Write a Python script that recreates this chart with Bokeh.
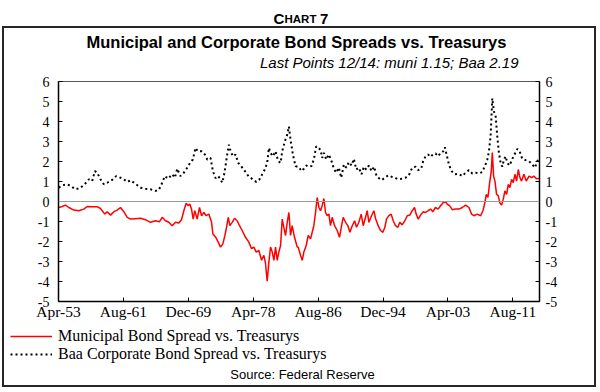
from bokeh.plotting import figure
from bokeh.layouts import column
from bokeh.models import (Range1d, LinearAxis, FixedTicker, Span, Label,
                          Legend, LegendItem)
from bokeh.embed import file_html
from bokeh.resources import INLINE

# ---------------- data ----------------
tick_labels = ["Apr-53", "Aug-61", "Dec-69", "Apr-78", "Aug-86", "Dec-94", "Apr-03", "Aug-11"]
y_ticks = [-5, -4, -3, -2, -1, 0, 1, 2, 3, 4, 5, 6]

muni_year = [1953.29, 1953.72, 1954.15, 1954.58, 1955.22, 1955.86, 1956.50, 1956.93, 1957.57, 1958.22,
             1958.64, 1959.20, 1959.50, 1959.93, 1960.36, 1960.78, 1961.21, 1961.64, 1962.07, 1962.50,
             1963.14, 1963.78, 1964.42, 1965.06, 1965.70, 1966.22, 1966.56, 1966.99, 1967.42, 1967.85,
             1968.27, 1968.70, 1969.04, 1969.34, 1969.64, 1969.90, 1970.11, 1970.33, 1970.54, 1970.75,
             1971.05, 1971.35, 1971.61, 1971.91, 1972.21, 1972.55, 1972.90, 1973.07, 1973.41, 1973.75,
             1974.05, 1974.35, 1974.61, 1974.82, 1975.04, 1975.25, 1975.55, 1975.85, 1976.19, 1976.49,
             1976.83, 1977.26, 1977.69, 1978.03, 1978.33, 1978.63, 1978.97, 1979.32, 1979.62, 1979.83,
             1980.04, 1980.26, 1980.47, 1980.69, 1980.90, 1981.11, 1981.33, 1981.54, 1981.76, 1981.97,
             1982.18, 1982.40, 1982.61, 1982.83, 1983.04, 1983.25, 1983.55, 1983.90, 1984.02, 1984.32,
             1984.54, 1984.75, 1985.05, 1985.31, 1985.61, 1985.82, 1986.03, 1986.25, 1986.46, 1986.68,
             1986.89, 1987.10, 1987.32, 1987.53, 1987.75, 1987.96, 1988.17, 1988.39, 1988.69, 1989.03,
             1989.33, 1989.59, 1989.80, 1990.10, 1990.40, 1990.66, 1990.96, 1991.26, 1991.51, 1991.81,
             1992.11, 1992.37, 1992.67, 1992.88, 1993.10, 1993.44, 1993.74, 1993.95, 1994.29, 1994.59,
             1994.89, 1995.15, 1995.36, 1995.66, 1995.96, 1996.22, 1996.52, 1996.82, 1997.07, 1997.37,
             1997.72, 1998.02, 1998.36, 1998.66, 1998.96, 1999.17, 1999.43, 1999.73, 2000.07, 2000.37,
             2000.71, 2001.01, 2001.31, 2001.65, 2001.99, 2002.30, 2002.64, 2002.94, 2003.15, 2003.45,
             2003.80, 2004.22, 2004.66, 2005.09, 2005.51, 2005.94, 2006.28, 2006.58, 2007.01, 2007.44,
             2007.74, 2007.99, 2008.17, 2008.38, 2008.60, 2008.81, 2008.94, 2009.11, 2009.28, 2009.49,
             2009.71, 2009.92, 2010.14, 2010.35, 2010.56, 2010.78, 2010.99, 2011.20, 2011.42, 2011.63,
             2011.85, 2012.06, 2012.28, 2012.49, 2012.70, 2013.00, 2013.30, 2013.65, 2013.99, 2014.29,
             2014.59, 2014.93]
muni_val = [-0.30, -0.25, -0.18, -0.30, -0.43, -0.46, -0.38, -0.25, -0.26, -0.26,
            -0.35, -0.63, -0.51, -0.68, -0.51, -0.43, -0.30, -0.51, -0.79, -0.88,
            -0.86, -0.84, -0.91, -1.04, -0.96, -1.01, -0.79, -0.96, -1.04, -1.21,
            -1.04, -1.07, -0.91, -0.46, -0.08, -0.21, -0.13, -0.38, -0.88, -0.46,
            -0.88, -0.30, -0.71, -0.55, -0.71, -0.63, -1.04, -1.62, -1.77, -2.03,
            -2.28, -2.12, -1.70, -1.29, -0.79, -1.21, -1.04, -0.84, -0.96, -1.21,
            -1.45, -1.79, -2.03, -2.36, -2.28, -2.53, -2.45, -2.94, -2.69, -3.11,
            -3.98, -3.02, -2.28, -2.53, -2.94, -2.28, -2.94, -2.53, -2.20, -0.88,
            -1.29, -1.70, -1.04, -0.55, -1.70, -1.21, -1.79, -2.28, -2.28, -2.69,
            -2.94, -2.53, -2.20, -1.70, -1.87, -1.54, -1.21, -0.55, 0.20, -0.30,
            -0.46, -0.21, 0.15, -0.55, -0.71, -0.63, -1.21, -0.79, -1.21, -1.45,
            -1.79, -1.21, -0.79, -1.04, -1.21, -1.54, -1.21, -0.96, -1.29, -1.04,
            -0.63, -1.21, -0.79, -0.46, -1.04, -0.71, -0.46, -0.85, -1.21, -1.45,
            -1.54, -1.29, -0.88, -0.71, -0.63, -0.96, -1.21, -1.29, -1.04, -1.17,
            -0.96, -0.71, -0.68, -0.46, -0.30, -0.63, -0.88, -0.68, -0.51, -0.55,
            -0.46, -0.38, -0.51, -0.30, -0.38, -0.21, -0.05, -0.02, -0.13, -0.21,
            -0.41, -0.38, -0.38, -0.30, -0.18, -0.30, -0.63, -0.71, -0.63, -0.71,
            -0.46, -0.05, 0.36, 0.20, 0.94, 1.52, 2.45, 1.27, 1.02, 0.36,
            0.28, -0.08, -0.18, 0.12, 0.53, 0.36, 0.86, 0.69, 1.11, 0.94,
            1.36, 1.02, 1.60, 1.19, 1.02, 1.36, 1.02, 1.27, 1.19, 1.27,
            1.14, 1.15]

baa_year = [1953.29, 1953.72, 1954.36, 1954.79, 1955.43, 1956.07, 1956.72, 1957.15, 1957.57, 1957.92,
            1958.22, 1958.64, 1959.07, 1959.71, 1960.23, 1960.65, 1961.21, 1961.64, 1962.07, 1962.50,
            1963.14, 1963.78, 1964.42, 1965.06, 1965.70, 1966.13, 1966.48, 1966.90, 1967.33, 1967.85,
            1968.19, 1968.49, 1968.90, 1969.34, 1969.77, 1970.20, 1970.50, 1970.84, 1971.14, 1971.61,
            1972.04, 1972.34, 1972.77, 1973.07, 1973.41, 1973.75, 1974.05, 1974.26, 1974.48, 1974.69,
            1974.91, 1975.12, 1975.34, 1975.64, 1975.98, 1976.32, 1976.75, 1977.18, 1977.69, 1978.20,
            1978.63, 1979.06, 1979.40, 1979.74, 1980.04, 1980.26, 1980.47, 1980.77, 1981.11, 1981.45,
            1981.76, 1981.97, 1982.31, 1982.61, 1982.83, 1983.04, 1983.34, 1983.68, 1984.11, 1984.45,
            1984.75, 1985.05, 1985.39, 1985.73, 1986.03, 1986.33, 1986.59, 1986.89, 1987.10, 1987.32,
            1987.62, 1987.96, 1988.30, 1988.60, 1988.90, 1989.24, 1989.54, 1989.89, 1990.19, 1990.53,
            1990.87, 1991.17, 1991.47, 1991.81, 1992.15, 1992.45, 1992.75, 1993.10, 1993.44, 1993.78,
            1994.08, 1994.47, 1994.72, 1995.15, 1995.58, 1996.00, 1996.43, 1996.86, 1997.29, 1997.80,
            1998.23, 1998.66, 1999.09, 1999.43, 1999.81, 2000.07, 2000.37, 2000.71, 2001.01, 2001.31,
            2001.65, 2001.99, 2002.30, 2002.64, 2002.85, 2003.07, 2003.37, 2003.71, 2004.14, 2004.65,
            2005.09, 2005.51, 2005.94, 2006.37, 2006.80, 2007.23, 2007.65, 2007.99, 2008.30, 2008.51,
            2008.72, 2008.94, 2009.15, 2009.37, 2009.58, 2009.79, 2010.01, 2010.22, 2010.44, 2010.65,
            2010.86, 2011.16, 2011.51, 2011.85, 2012.15, 2012.45, 2012.79, 2013.22, 2013.65, 2014.07,
            2014.42, 2014.72, 2014.93]
baa_val = [0.69, 0.81, 0.86, 0.78, 0.61, 0.68, 0.91, 1.11, 1.02, 1.52,
           1.44, 1.11, 0.86, 0.98, 1.11, 1.27, 1.19, 1.11, 0.98, 1.06,
           0.88, 0.69, 0.64, 0.61, 0.53, 0.58, 0.86, 1.27, 1.14, 1.36,
           1.19, 1.64, 1.27, 1.44, 1.69, 1.97, 2.10, 2.68, 2.51, 2.51,
           2.35, 2.10, 2.18, 1.52, 1.17, 1.27, 1.11, 0.94, 1.27, 1.77,
           2.35, 2.84, 2.51, 2.26, 2.35, 1.93, 1.74, 1.52, 1.24, 1.11,
           0.98, 1.11, 1.36, 1.60, 1.93, 2.68, 2.43, 2.26, 2.51, 2.02,
           1.93, 2.51, 3.01, 3.34, 3.75, 3.09, 2.35, 1.77, 1.72, 1.52,
           1.64, 1.80, 1.74, 1.77, 2.10, 2.76, 2.68, 2.59, 2.18, 2.43,
           2.10, 2.35, 2.02, 1.64, 1.44, 1.69, 1.19, 1.85, 1.69, 1.97,
           1.80, 2.13, 1.60, 1.69, 1.36, 1.74, 1.60, 1.80, 1.52, 1.74,
           1.27, 1.14, 1.07, 1.19, 1.31, 1.24, 1.19, 1.11, 1.14, 1.19,
           1.31, 1.69, 1.74, 1.57, 1.64, 2.02, 2.26, 2.35, 2.23, 2.35,
           2.40, 2.26, 2.43, 2.51, 2.71, 2.35, 1.85, 1.52, 1.36, 1.38,
           1.27, 1.44, 1.57, 1.40, 1.44, 1.40, 1.47, 1.77, 2.10, 2.51,
           3.26, 5.16, 4.50, 4.25, 3.26, 2.43, 1.93, 1.74, 2.10, 2.26,
           1.93, 1.80, 2.13, 2.40, 2.63, 2.51, 2.13, 2.07, 2.02, 1.85,
           1.69, 2.02, 2.19]

# ---------------- helpers ----------------
MONTHS = ["Jan", "Feb", "Mar", "Apr", "May", "Jun", "Jul", "Aug", "Sep", "Oct", "Nov", "Dec"]
START = 1953.25  # Apr-1953


def label_month(lbl):
    m, y = lbl.split("-")
    yy = int(y)
    yy += 1900 if yy >= 50 else 2000
    return int(round((yy + MONTHS.index(m) / 12.0 - START) * 12))


def to_month(years):
    return [(y - START) * 12.0 for y in years]


tick_pos = [label_month(t) for t in tick_labels]

W = 600
H_HEAD, H_MAIN, H_FOOT = 71, 251, 70      # 71 + 251 + 70 = 392
SERIF = "Liberation Serif"
SANS = "Liberation Sans"
BOX = "#262626"
MUNI_STYLE = dict(line_color="#ff0000", line_width=1.5)
BAA_STYLE = dict(line_color="black", line_width=2, line_dash="2 3")


def no_align(fig):
    try:
        fig.frame_align = False
    except Exception:
        pass


def blank_panel(h):
    f = figure(width=W, height=h, output_backend="svg", toolbar_location=None,
               x_range=Range1d(0, W), y_range=Range1d(0, h),
               x_axis_location=None, y_axis_location=None,
               min_border_left=0, min_border_right=0, min_border_top=0, min_border_bottom=0)
    f.grid.visible = False
    f.outline_line_color = None
    f.background_fill_color = None
    f.border_fill_color = None
    no_align(f)
    return f


# ---------------- header: chart number, title, subtitle ----------------
hd = blank_panel(H_HEAD)


def htext(text, x, page_y, size, style="normal", align="left", baseline="middle"):
    hd.add_layout(Label(x=x, y=H_HEAD - page_y, text=text, text_font=SANS, text_font_size=size,
                        text_font_style=style, text_align=align, text_baseline=baseline,
                        text_color="black"))


htext("C", 273, 18, "15px", style="bold", baseline="alphabetic")
htext("HART", 284, 18, "11.5px", style="bold", baseline="alphabetic")
htext("7", 319.5, 18, "15px", style="bold", baseline="alphabetic")
htext("Municipal and Corporate Bond Spreads vs. Treasurys", 296, 41, "16.5px", style="bold",
      align="center")
htext("Last Points 12/14: muni 1.15; Baa 2.19", 518, 62, "15px", style="italic", align="right")

# ---------------- main chart ----------------
p = figure(width=W, height=H_MAIN, output_backend="svg", toolbar_location=None,
           x_range=Range1d(0, 741), y_range=Range1d(-5, 6),
           min_border_left=58, min_border_right=61, min_border_top=10, min_border_bottom=19)
no_align(p)
p.grid.visible = False
p.outline_line_color = "#555555"
p.outline_line_width = 1
p.background_fill_color = "white"
p.border_fill_color = None

xa = p.xaxis[0]
xa.ticker = FixedTicker(ticks=tick_pos)
xa.major_label_overrides = {tp: tl for tp, tl in zip(tick_pos, tick_labels)}
xa.major_tick_in = 4
xa.major_tick_out = 0
xa.minor_tick_line_color = None
xa.axis_line_color = "black"
xa.axis_line_width = 1.5
xa.major_label_text_font = SERIF
xa.major_label_text_font_size = "15.5px"
xa.major_label_text_color = "black"
xa.major_label_standoff = 1

ya = p.yaxis[0]
ya.ticker = FixedTicker(ticks=y_ticks)
ya.major_label_overrides = {t: str(t) for t in y_ticks}
ya.major_tick_in = 4
ya.major_tick_out = 0
ya.minor_tick_line_color = None
ya.axis_line_color = "black"
ya.axis_line_width = 1.5
ya.major_label_text_font = SERIF
ya.major_label_text_font_size = "14px"
ya.major_label_text_color = "black"
ya.major_label_standoff = 9

ra = LinearAxis(ticker=FixedTicker(ticks=y_ticks),
                major_label_overrides={t: str(t) for t in y_ticks},
                major_tick_in=4, major_tick_out=0, minor_tick_line_color=None,
                axis_line_color="black", axis_line_width=1.5,
                major_label_text_font=SERIF, major_label_text_font_size="14px",
                major_label_text_color="black", major_label_standoff=6)
p.add_layout(ra, "right")

p.add_layout(Span(location=0, dimension="width", line_color="#999999", line_width=1.2))

p.line(to_month(muni_year), muni_val, **MUNI_STYLE)
p.line(to_month(baa_year), baa_val, **BAA_STYLE)

# ---------------- footer: legend and source ----------------
ft = blank_panel(H_FOOT)
lr_muni = ft.line(to_month(muni_year), muni_val, **MUNI_STYLE)
lr_baa = ft.line(to_month(baa_year), baa_val, **BAA_STYLE)
lr_muni.visible = False
lr_baa.visible = False

legend = Legend(items=[LegendItem(label="Municipal Bond Spread vs. Treasurys", renderers=[lr_muni]),
                       LegendItem(label="Baa Corporate Bond Spread vs. Treasurys", renderers=[lr_baa])],
                location=(10, 29), orientation="vertical", click_policy="none",
                label_text_font=SERIF, label_text_font_size="16px", label_text_color="black",
                glyph_width=42, glyph_height=14, label_height=14, label_standoff=6,
                spacing=0, padding=0, margin=0, border_line_color=None,
                background_fill_alpha=0, inactive_fill_alpha=0)
ft.add_layout(legend)
ft.add_layout(Label(x=302, y=18, text="Source: Federal Reserve", text_font=SANS,
                    text_font_size="13px", text_align="center", text_baseline="middle",
                    text_color="black"))

layout = column(hd, p, ft, spacing=0)
# outer framing box of the exhibit, drawn as CSS lines behind the transparent canvases
layout.styles = {
    "background-color": "white",
    "background-image": ", ".join(["linear-gradient(%s, %s)" % (BOX, BOX)] * 4),
    "background-size": "594px 2px, 594px 2px, 2px 361px, 2px 361px",
    "background-position": "2px 26px, 2px 385px, 2px 26px, 594px 26px",
    "background-repeat": "no-repeat",
}

open("out.html", "w").write(file_html(layout, INLINE))
